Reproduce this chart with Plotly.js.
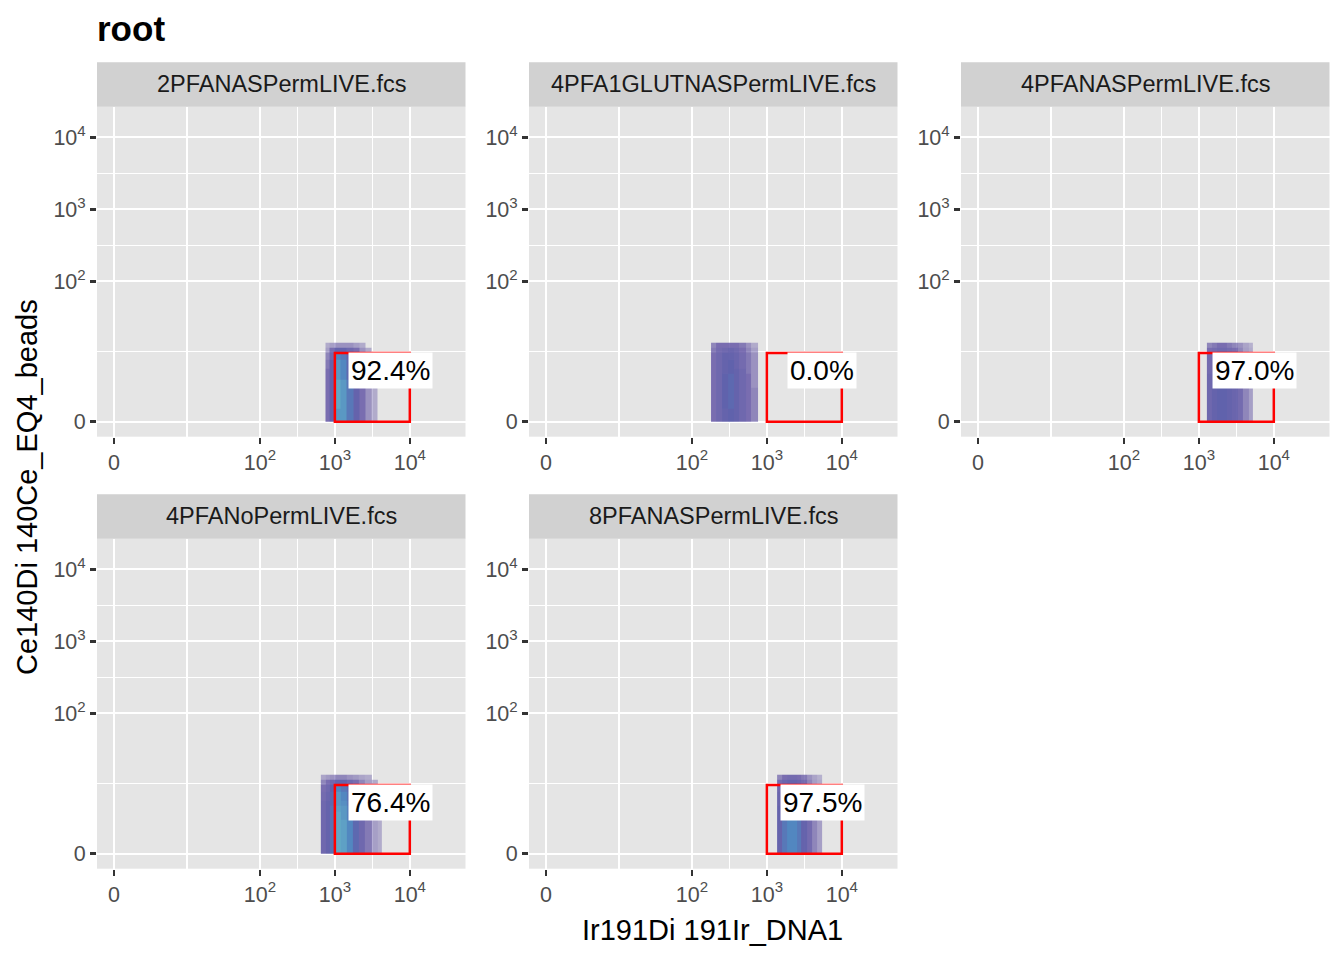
<!DOCTYPE html>
<html>
<head>
<meta charset="utf-8">
<script src="https://cdn.plot.ly/plotly-3.0.1.min.js"></script>
<style>
  html, body { margin: 0; padding: 0; background: #fff; }
  #graph { width: 1344px; height: 960px; }
</style>
</head>
<body>
<div id="graph"></div>
<script>
/* ----- Data ----- */
var panelNames = ['2PFANASPermLIVE.fcs', '4PFA1GLUTNASPermLIVE.fcs', '4PFANASPermLIVE.fcs',
                  '4PFANoPermLIVE.fcs', '8PFANASPermLIVE.fcs'];
var gatePercent = ['92.4%', '0.0%', '97.0%', '76.4%', '97.5%'];
var gateX = [1000, 10000];   // Ir191Di gate limits
var gateY = [0, 10];         // Ce140Di gate limits
var labelPos = [5500, 5.5];  // where the stats label sits (raw units)

var breaks = [0, 100, 1000, 10000];
var breakLabels = ['0', '10<sup>2</sup>', '10<sup>3</sup>', '10<sup>4</sup>'];

// density bins: edges in raw channel units, counts estimated (0..10)
var yEdges = [0, 1, 2, 3, 4, 5, 6, 8, 10, 12, 14];

var xEdges1 = [750, 850, 1000, 1200, 1450, 1750, 2100, 2550, 3100, 3700];
var dens1 = [
  [3, 5, 9, 9, 7, 5, 3, 1.5, 0.5],
  [3, 5, 10, 9, 7, 5, 3, 1.5, 0.5],
  [3, 5, 10, 9, 7, 5, 3, 1.5, 0.5],
  [3, 5, 10, 9, 7, 4, 2.5, 1, 0.5],
  [3, 5, 9, 8, 6, 4, 2.5, 1, 0.5],
  [3, 5, 9, 8, 6, 4, 2, 1, 0.5],
  [2.5, 5, 9, 8, 6, 4, 2, 1, 0.3],
  [2, 4, 8, 7, 5, 3, 2, 1, 0.3],
  [1, 3, 5, 5, 4, 3, 1.5, 0.5, 0],
  [0.5, 1, 1.5, 1.5, 1.5, 1, 0.5, 0, 0]
];

var xEdges2 = [180, 210, 250, 300, 360, 430, 520, 620, 760];
var dens2 = [
  [3, 4, 5, 5.5, 5, 4, 3, 2],
  [3, 4, 5.5, 6, 5, 4, 3, 2],
  [3, 4, 5.5, 6, 5, 4, 3, 2],
  [3, 4, 5.5, 6, 5, 4, 3, 1.5],
  [3, 4, 5.5, 6, 5, 4, 3, 1.5],
  [3, 4, 5, 5.5, 5, 4, 2.5, 1.5],
  [3, 4, 5, 5.5, 4.5, 3.5, 2.5, 1.5],
  [3, 4, 5, 5, 4.5, 3.5, 2.5, 1.5],
  [2.5, 3.5, 4, 4.5, 4, 3, 2, 1],
  [2, 3, 3, 3, 3, 2.5, 1.5, 0.5]
];

var xEdges3 = [1280, 1500, 1750, 2050, 2400, 2800, 3300, 3900, 4600, 5300];
var dens3 = [
  [4, 5, 5.5, 5.5, 5, 4.5, 3.5, 2, 1],
  [4, 5, 5.5, 5.5, 5, 4.5, 3.5, 2, 1],
  [4, 5, 5.5, 5.5, 5, 4.5, 3.5, 2, 1],
  [4, 5, 5.5, 5.5, 5, 4, 3, 2, 1],
  [4, 5, 5, 5, 4.5, 4, 3, 1.5, 0.8],
  [3.5, 4.5, 5, 5, 4.5, 4, 3, 1.5, 0.8],
  [3.5, 4.5, 5, 5, 4.5, 3.5, 2.5, 1.5, 0.5],
  [3.5, 4, 4.5, 4.5, 4, 3.5, 2.5, 1.5, 0.5],
  [3, 3.5, 4, 4, 3.5, 3, 2, 1, 0.5],
  [2, 2.5, 3, 3, 2.5, 2, 1.5, 0.8, 0.3]
];

var xEdges4 = [650, 750, 850, 1000, 1200, 1450, 1750, 2100, 2550, 3100, 3700, 4200];
var dens4 = [
  [4, 5, 6.5, 10, 9.5, 8, 6, 4, 2.5, 1, 0.5],
  [4, 5, 6.5, 10, 9.5, 8, 6, 4, 2.5, 1, 0.5],
  [4, 5, 6.5, 10, 9.5, 8, 6, 4, 2.5, 1, 0.5],
  [4, 5, 6.5, 10, 9, 7.5, 5.5, 3.5, 2, 1, 0.5],
  [4, 5, 6.5, 9.5, 9, 7.5, 5.5, 3.5, 2, 1, 0.3],
  [4, 5, 6, 9, 8.5, 7, 5, 3, 2, 0.8, 0.3],
  [3.5, 4.5, 6, 9, 8, 6.5, 5, 3, 1.5, 0.8, 0.3],
  [3, 4, 5.5, 8, 7, 6, 4, 2.5, 1.5, 0.5, 0],
  [2, 3, 4, 5, 5, 4, 3, 2, 1, 0.5, 0],
  [0.8, 1.2, 1.5, 2, 2, 1.5, 1.2, 0.8, 0.5, 0, 0]
];

var xEdges5 = [1370, 1600, 1850, 2150, 2500, 2900, 3400, 4000, 4700, 5500];
var dens5 = [
  [5, 7, 8, 8, 7, 5, 3.5, 2, 1],
  [5, 7, 8, 8, 7, 5, 3.5, 2, 1],
  [5, 7, 8, 8, 7, 5, 3.5, 2, 1],
  [5, 7, 8, 7.5, 6.5, 5, 3.5, 2, 0.8],
  [5, 6.5, 7.5, 7.5, 6.5, 5, 3, 1.5, 0.8],
  [4.5, 6, 7, 7, 6, 4.5, 3, 1.5, 0.8],
  [4.5, 6, 6.5, 6.5, 5.5, 4.5, 3, 1.5, 0.5],
  [4, 5, 6, 6, 5, 4, 2.5, 1.5, 0.5],
  [3.5, 4.5, 5, 5, 4.5, 3.5, 2, 1, 0.5],
  [2, 3, 3.5, 3.5, 3, 2.5, 1.5, 0.8, 0.3]
];

var xEdgeSets = [xEdges1, xEdges2, xEdges3, xEdges4, xEdges5];
var densSets = [dens1, dens2, dens3, dens4, dens5];

/* ----- Axis transform (flowJo-like arcsinh, in decades) ----- */
var COFACTOR = 2.26;
function tf(v) {
    return Math.asinh(v / COFACTOR) / Math.LN10;
}

/* ----- Geometry (pixels in the 1344x960 page) ----- */
var W = 1344, H = 960;
var colLeft = [97, 529, 961];
var panelW = 368.5;
var rowTop = [106.7, 538.7];
var panelH = 330;
var stripH = 44.5;
var xRange = [-0.227, 4.69];
var yRange = [-0.208, 4.371];

var FONT = 'Liberation Sans, Arial, Helvetica, sans-serif';

var majorVals = breaks.map(tf);
var minorVals = [];
for (var i = 0; i < majorVals.length - 1; i++) {
    minorVals.push((majorVals[i] + majorVals[i + 1]) / 2);
}

var densScale = [
    [0, 'rgba(94,79,162,0.30)'],
    [0.3, 'rgba(94,79,162,0.80)'],
    [0.55, 'rgb(96,98,172)'],
    [0.8, 'rgb(82,135,192)'],
    [1, 'rgb(98,168,198)']
];

var data = [];
var shapes = [];
var annotations = [];
var layout = {
    width: W,
    height: H,
    margin: {l: 0, r: 0, t: 0, b: 0},
    paper_bgcolor: '#FFFFFF',
    plot_bgcolor: '#E5E5E5',
    showlegend: false,
    font: {family: FONT, color: '#4D4D4D'},
    title: {
        text: '<b>root</b>',
        x: 97 / W, xanchor: 'left',
        y: 1 - 29 / H, yanchor: 'middle',
        font: {family: FONT, size: 35, color: '#000000'}
    }
};

function axisCommon(range, domain, anchor) {
    return {
        domain: domain,
        range: range,
        anchor: anchor,
        tickmode: 'array',
        tickvals: majorVals,
        ticktext: breakLabels,
        ticks: 'outside',
        ticklen: 6,
        tickwidth: 2.5,
        tickcolor: '#333333',
        tickfont: {family: FONT, size: 21.5, color: '#4D4D4D'},
        showgrid: true,
        gridcolor: '#FFFFFF',
        gridwidth: 2.2,
        minor: {
            tickmode: 'array',
            tickvals: minorVals,
            ticks: '',
            showgrid: true,
            gridcolor: '#FFFFFF',
            gridwidth: 1.1
        },
        zeroline: false,
        showline: false,
        fixedrange: true
    };
}

for (var p = 0; p < panelNames.length; p++) {
    var col = p % 3;
    var row = Math.floor(p / 3);
    var pLeft = colLeft[col];
    var pTop = rowTop[row];
    var suffix = p === 0 ? '' : String(p + 1);
    var xName = 'x' + suffix, yName = 'y' + suffix;

    layout['xaxis' + suffix] = axisCommon(xRange, [pLeft / W, (pLeft + panelW) / W], yName);
    layout['yaxis' + suffix] = axisCommon(yRange, [1 - (pTop + panelH) / H, 1 - pTop / H], xName);

    // density cloud
    var z = densSets[p].map(function (r) {
        return r.map(function (v) { return v > 0 ? v : null; });
    });
    data.push({
        type: 'heatmap',
        x: xEdgeSets[p].map(tf),
        y: yEdges.map(tf),
        z: z,
        zmin: 0,
        zmax: 10,
        colorscale: densScale,
        showscale: false,
        hoverinfo: 'skip',
        xaxis: xName,
        yaxis: yName
    });

    // gate rectangle
    shapes.push({
        type: 'rect',
        xref: xName, yref: yName,
        x0: tf(gateX[0]), x1: tf(gateX[1]),
        y0: tf(gateY[0]), y1: tf(gateY[1]),
        line: {color: '#FF0000', width: 2.5},
        fillcolor: 'rgba(0,0,0,0)'
    });

    // stats label
    annotations.push({
        xref: xName, yref: yName,
        x: tf(labelPos[0]), y: tf(labelPos[1]),
        text: gatePercent[p],
        showarrow: false,
        font: {family: FONT, size: 28, color: '#000000'},
        bgcolor: '#FFFFFF',
        borderpad: 2,
        xanchor: 'center', yanchor: 'middle'
    });

    // facet strip
    shapes.push({
        type: 'rect',
        xref: 'paper', yref: 'paper',
        x0: pLeft / W, x1: (pLeft + panelW) / W,
        y0: 1 - pTop / H, y1: 1 - (pTop - stripH) / H,
        line: {width: 0},
        fillcolor: '#D1D1D1',
        layer: 'below'
    });
    annotations.push({
        xref: 'paper', yref: 'paper',
        x: (pLeft + panelW / 2) / W,
        y: 1 - (pTop - stripH / 2) / H,
        text: panelNames[p],
        showarrow: false,
        font: {family: FONT, size: 23.5, color: '#1A1A1A'},
        xanchor: 'center', yanchor: 'middle'
    });
}

// axis titles
annotations.push({
    xref: 'paper', yref: 'paper',
    x: 713 / W, y: 1 - 930 / H,
    text: 'Ir191Di 191Ir_DNA1',
    showarrow: false,
    font: {family: FONT, size: 29, color: '#000000'},
    xanchor: 'center', yanchor: 'middle'
});
annotations.push({
    xref: 'paper', yref: 'paper',
    x: 27 / W, y: 1 - 487 / H,
    text: 'Ce140Di 140Ce_EQ4_beads',
    textangle: -90,
    showarrow: false,
    font: {family: FONT, size: 29, color: '#000000'},
    xanchor: 'center', yanchor: 'middle'
});

layout.shapes = shapes;
layout.annotations = annotations;

var graph = document.getElementById('graph');
Plotly.newPlot(graph, data, layout, {staticPlot: true});
</script>
</body>
</html>
